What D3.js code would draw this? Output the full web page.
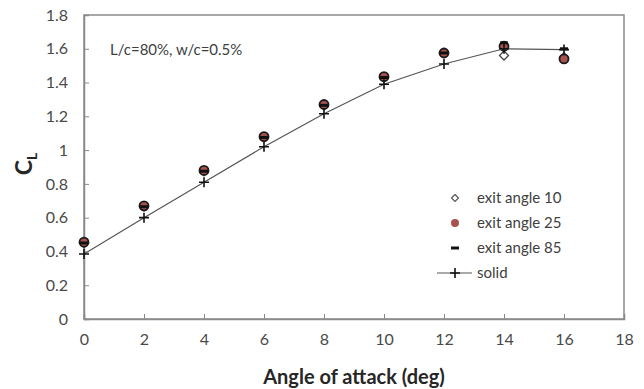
<!DOCTYPE html>
<html>
<head>
<meta charset="utf-8">
<script src="https://cdn.jsdelivr.net/npm/d3@7"></script>
<style>
  body { margin: 0; background: #fff; }
  text { font-family: Lato, "Open Sans", sans-serif; }
</style>
</head>
<body>
<script>
var width = 644,
    height = 389;

// chart data
var angles = [0, 2, 4, 6, 8, 10, 12, 14, 16];
var exit10 = [0.45, 0.665, 0.875, 1.075, 1.265, 1.43, 1.575, 1.56, 1.55];
var exit25 = [0.455, 0.67, 0.88, 1.08, 1.27, 1.435, 1.575, 1.615, 1.54];
var exit85 = [0.45, 0.665, 0.875, 1.075, 1.265, 1.43, 1.575, 1.635, 1.6];
var solid = [0.385, 0.6, 0.81, 1.02, 1.215, 1.39, 1.51, 1.6, 1.595];
var xTicks = [0, 2, 4, 6, 8, 10, 12, 14, 16, 18];
var yTicks = [0, 0.2, 0.4, 0.6, 0.8, 1, 1.2, 1.4, 1.6, 1.8];
var legendLabels = ['exit angle 10', 'exit angle 25', 'exit angle 85', 'solid'];

var margin = { left: 84, right: 20, top: 15, bottom: 70 };

var x = d3.scaleLinear().domain([0, 18]).range([margin.left, width - margin.right]);
var y = d3.scaleLinear().domain([0, 1.8]).range([height - margin.bottom, margin.top]);

var svg = d3.select('body')
    .append('svg')
    .attr('width', width)
    .attr('height', height);

// plot frame
svg.append('rect')
    .attr('x', x(0))
    .attr('y', y(1.8))
    .attr('width', x(18) - x(0))
    .attr('height', y(0) - y(1.8))
    .attr('fill', 'none')
    .attr('stroke', '#8a8a8a')
    .attr('stroke-width', 1.5);

var xAxis = svg.append('g')
    .attr('transform', 'translate(0,' + y(0) + ')')
    .call(d3.axisBottom(x).tickValues(xTicks).tickSize(-5).tickPadding(15).tickFormat(d3.format('d')));

var yAxis = svg.append('g')
    .attr('transform', 'translate(' + x(0) + ',0)')
    .call(d3.axisLeft(y).tickValues(yTicks).tickSize(-5).tickPadding(16).tickFormat(function (d) {
        return d3.format('')(+d.toFixed(1));
    }));

[xAxis, yAxis].forEach(function (a) {
    a.select('.domain').attr('stroke', '#8a8a8a').attr('stroke-width', 1.5);
    a.selectAll('.tick line').attr('stroke', '#8a8a8a');
    a.selectAll('.tick text')
        .attr('fill', '#4a4a4a')
        .style('font-size', '16px');
});

// axis titles
svg.append('text')
    .attr('x', (x(0) + x(18)) / 2)
    .attr('y', 384)
    .attr('text-anchor', 'middle')
    .attr('fill', '#262626')
    .style('font-size', '20px')
    .style('font-weight', 'bold')
    .text('Angle of attack (deg)');

var yt = svg.append('text')
    .attr('transform', 'translate(32,164) rotate(-90)')
    .attr('text-anchor', 'middle')
    .attr('fill', '#262626')
    .style('font-weight', 'bold');
yt.append('tspan').style('font-size', '23px').text('C');
yt.append('tspan').style('font-size', '14px').attr('dy', 5).text('L');

svg.append('text')
    .attr('x', 110)
    .attr('y', 55)
    .attr('fill', '#404040')
    .style('font-size', '15px')
    .text('L/c=80%, w/c=0.5%');

var pts = function (vals) {
    return angles.map(function (a, i) { return { x: a, y: vals[i] }; });
};

var diamond = 'M0,-4.5L4.5,0L0,4.5L-4.5,0Z';
var plus = 'M-5,0H5M0,-5V5';

// exit angle 10
svg.append('g').selectAll('path')
    .data(pts(exit10))
    .enter()
    .append('path')
    .attr('d', diamond)
    .attr('transform', function (d) { return 'translate(' + x(d.x) + ',' + y(d.y) + ')'; })
    .attr('fill', '#fff')
    .attr('stroke', '#444')
    .attr('stroke-width', 1.3);

// exit angle 25
svg.append('g').selectAll('circle')
    .data(pts(exit25))
    .enter()
    .append('circle')
    .attr('cx', function (d) { return x(d.x); })
    .attr('cy', function (d) { return y(d.y); })
    .attr('r', 4.5)
    .attr('fill', '#a8524f')
    .attr('stroke', '#1a1a1a')
    .attr('stroke-width', 1.8);

// exit angle 85
svg.append('g').selectAll('rect')
    .data(pts(exit85))
    .enter()
    .append('rect')
    .attr('x', function (d) { return x(d.x) - 4; })
    .attr('y', function (d) { return y(d.y) - 1.5; })
    .attr('width', 8)
    .attr('height', 3)
    .attr('fill', '#111');

// solid
var line = d3.line()
    .x(function (d) { return x(d.x); })
    .y(function (d) { return y(d.y); });

svg.append('path')
    .datum(pts(solid))
    .attr('d', line)
    .attr('fill', 'none')
    .attr('stroke', '#555')
    .attr('stroke-width', 1.2);

svg.append('g').selectAll('path')
    .data(pts(solid))
    .enter()
    .append('path')
    .attr('d', plus)
    .attr('transform', function (d) { return 'translate(' + x(d.x) + ',' + y(d.y) + ')'; })
    .attr('stroke', '#111')
    .attr('stroke-width', 1.6);

// legend
var legend = svg.append('g').attr('transform', 'translate(455,198)');
var rows = legend.selectAll('g')
    .data(legendLabels)
    .enter()
    .append('g')
    .attr('transform', function (d, i) { return 'translate(0,' + i * 25 + ')'; });

rows.append('text')
    .attr('x', 22)
    .attr('dy', '0.35em')
    .attr('fill', '#404040')
    .style('font-size', '15px')
    .text(function (d) { return d; });

rows.filter(function (d, i) { return i === 0; })
    .append('path')
    .attr('d', 'M0,-3.5L3.5,0L0,3.5L-3.5,0Z')
    .attr('fill', '#fff')
    .attr('stroke', '#555')
    .attr('stroke-width', 1.2);
rows.filter(function (d, i) { return i === 1; })
    .append('circle')
    .attr('r', 4)
    .attr('fill', '#a8524f');
rows.filter(function (d, i) { return i === 2; })
    .append('rect')
    .attr('x', -4).attr('y', -1.5).attr('width', 8).attr('height', 3)
    .attr('fill', '#111');
var solidRow = rows.filter(function (d, i) { return i === 3; });
solidRow.append('line')
    .attr('x1', -18).attr('x2', 17)
    .attr('stroke', '#555').attr('stroke-width', 1.2);
solidRow.append('path')
    .attr('d', plus)
    .attr('stroke', '#111')
    .attr('stroke-width', 1.6);
</script>
</body>
</html>
